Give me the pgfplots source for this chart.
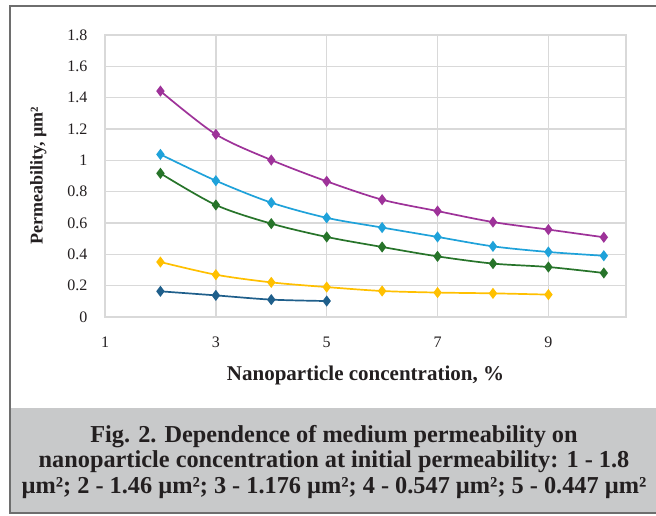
\documentclass[border=0pt]{standalone}
\usepackage{fontspec}
\setmainfont{Liberation Serif}
\usepackage{pgfplots}
\pgfplotsset{compat=1.18}

\definecolor{cpurple}{HTML}{9E3299}
\definecolor{cblue}{HTML}{1FA2DA}
\definecolor{cgreen}{HTML}{27742A}
\definecolor{cyellow}{HTML}{FFC000}
\definecolor{cdark}{HTML}{1F5F8B}
\definecolor{gridc}{HTML}{D9D9D9}
\definecolor{captbg}{HTML}{C8C9CA}
\definecolor{framec}{HTML}{6E6E6E}
\definecolor{txt}{HTML}{231F20}

\begin{document}
\begin{tikzpicture}[x=1pt,y=1pt]
\useasboundingbox (0,0) rectangle (656,-515);
\fill[white] (0,0) rectangle (656,-515);
\fill[captbg] (11,-408) rectangle (656,-513);
\draw[framec, line width=2.2pt] (660,-6) -- (10,-6) -- (10,-513) -- (660,-513);

\begin{axis}[
    at={(105pt,-317pt)}, anchor=south west,
    scale only axis,
    width=521pt, height=282pt,
    xmin=1, xmax=10.4,
    ymin=0, ymax=1.8,
    xtick={1,3,5,7,9},
    ytick={0,0.2,0.4,0.6,0.8,1,1.2,1.4,1.6,1.8},
    yticklabels={0,0.2,0.4,0.6,0.8,1,1.2,1.4,1.6,1.8},
    major tick length=0pt,
    grid=major,
    grid style={gridc, line width=1.3pt},
    axis line style={gridc, line width=1.3pt},
    /pgf/number format/assume math mode=true,
    tick label style={font=\fontsize{16}{18}\selectfont, text=txt},
    xticklabel style={yshift=-16pt},
    yticklabel style={xshift=-14pt},
    xlabel={\textbf{Nanoparticle concentration, \%}},
    ylabel={\textbf{Permeability, µm²}},
    label style={text=txt},
    xlabel style={font=\fontsize{21}{23}\selectfont, yshift=-12pt},
    ylabel style={font=\fontsize{18}{20}\selectfont, yshift=14pt},
    every axis plot/.append style={line width=1.7pt, smooth, tension=0.5,
        mark=diamond*, mark size=4.2pt, mark options={solid}},
]
\addplot[cpurple] coordinates {
    (2,1.442) (3,1.166) (4,1.002) (5,0.866) (6,0.749)
    (7,0.676) (8,0.606) (9,0.558) (10,0.509)
};
\addplot[cblue] coordinates {
    (2,1.038) (3,0.870) (4,0.730) (5,0.633) (6,0.571)
    (7,0.511) (8,0.451) (9,0.415) (10,0.391)
};
\addplot[cgreen] coordinates {
    (2,0.917) (3,0.715) (4,0.596) (5,0.511) (6,0.447)
    (7,0.387) (8,0.341) (9,0.319) (10,0.281)
};
\addplot[cyellow] coordinates {
    (2,0.351) (3,0.270) (4,0.221) (5,0.191) (6,0.166)
    (7,0.156) (8,0.151) (9,0.143)
};
\addplot[cdark] coordinates {
    (2,0.164) (3,0.138) (4,0.111) (5,0.102)
};
\end{axis}

\node[text=txt, font=\bfseries\fontsize{24.3}{25.5}\selectfont, align=center]
  at (334,-462) {Fig. 2. Dependence of medium permeability on\\
  nanoparticle concentration at initial permeability: 1 - 1.8\\
  µm²; 2 - 1.46 µm²; 3 - 1.176 µm²; 4 - 0.547 µm²; 5 - 0.447 µm²};
\end{tikzpicture}
\end{document}
